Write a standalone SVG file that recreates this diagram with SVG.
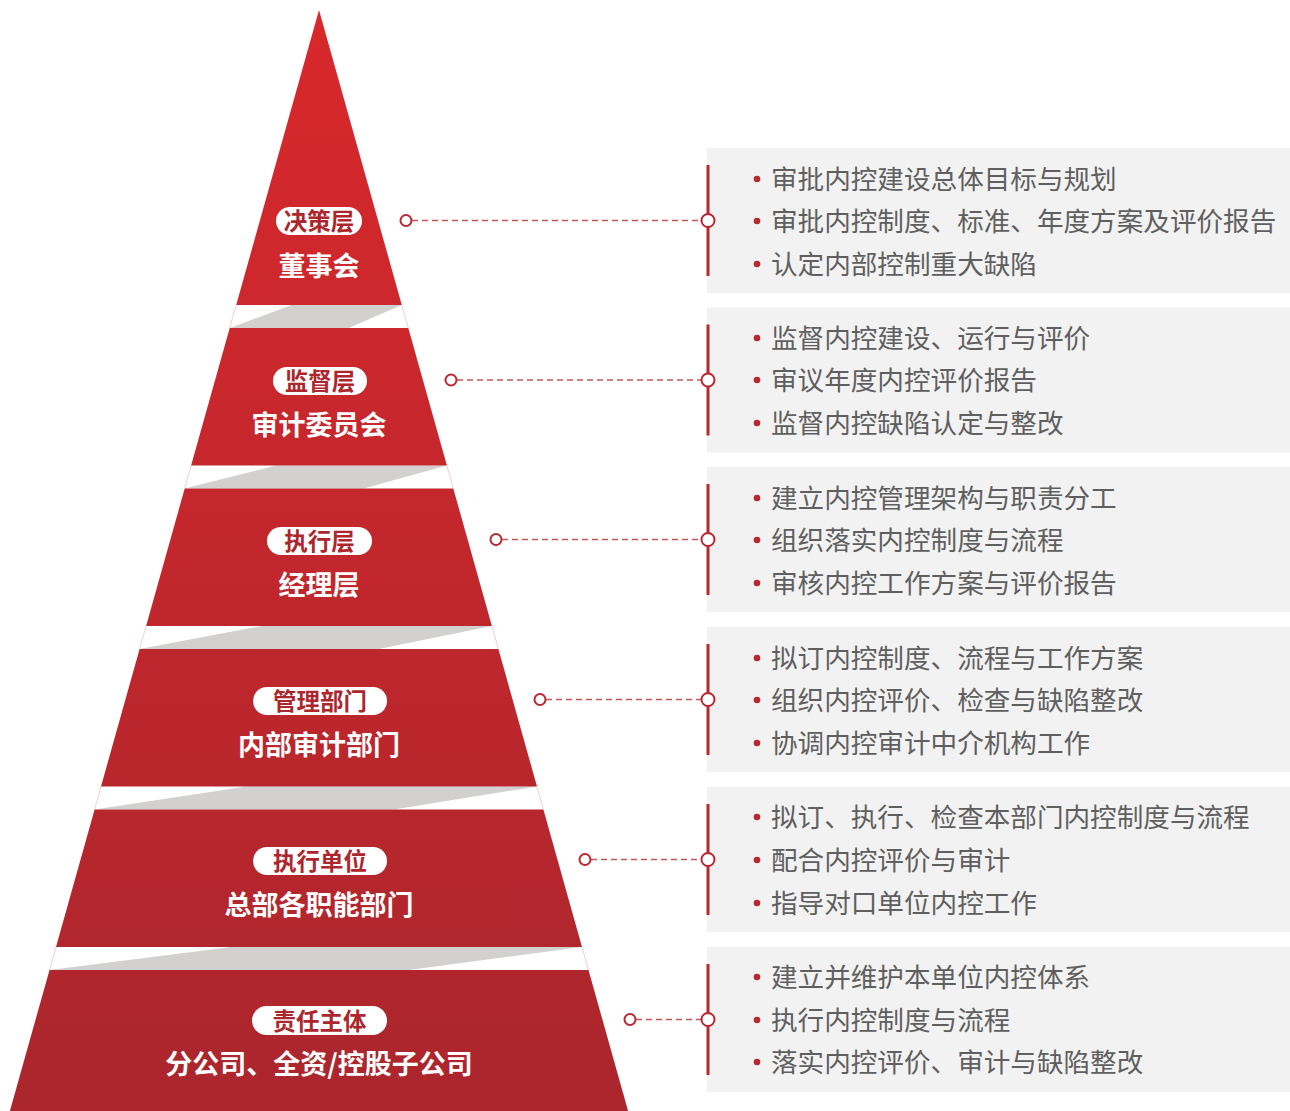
<svg xmlns="http://www.w3.org/2000/svg" width="1290" height="1111" viewBox="0 0 1290 1111">
<defs>
<linearGradient id="pg" gradientUnits="userSpaceOnUse" x1="0" y1="10" x2="0" y2="1111">
<stop offset="0" stop-color="#d8282c"/>
<stop offset="1" stop-color="#ab262d"/>
</linearGradient>
<style>
.tier{fill:url(#pg);}
.fold{fill:#d3d0d0;}
.edge{stroke:#f3c0c2;stroke-width:0.8;fill:none;}
.pill{fill:#ffffff;}
.pt{font-family:"Noto Sans CJK SC","Noto Sans",sans-serif;font-weight:bold;font-size:23.5px;fill:#ad262d;text-anchor:middle;dominant-baseline:central;}
.mt{font-family:"Noto Sans CJK SC","Noto Sans",sans-serif;font-weight:bold;font-size:27px;fill:#ffffff;text-anchor:middle;dominant-baseline:central;}
.box{fill:#f2f2f2;}
.bar{stroke:#b8282f;stroke-width:3;}
.dash{stroke:#c4575c;stroke-width:1.6;stroke-dasharray:6 4;fill:none;}
.dot{fill:#ffffff;stroke:#b8282f;stroke-width:2;}
.bd{fill:#b8282f;}
.bt{font-family:"Noto Sans CJK SC","Noto Sans",sans-serif;font-size:26.6px;fill:#5f5f5f;dominant-baseline:central;}
</style>
</defs>
<rect width="1290" height="1111" fill="#ffffff"/>

<g id="pyramid-edges">
<line class="edge" x1="236.2" y1="305" x2="229.7" y2="328"/>
<line class="edge" x1="401.8" y1="305" x2="408.3" y2="328"/>
<line class="edge" x1="191.1" y1="465.5" x2="184.7" y2="488.5"/>
<line class="edge" x1="446.9" y1="465.5" x2="453.3" y2="488.5"/>
<line class="edge" x1="146.1" y1="626" x2="139.6" y2="649"/>
<line class="edge" x1="491.9" y1="626" x2="498.4" y2="649"/>
<line class="edge" x1="101.0" y1="786.5" x2="94.6" y2="809.5"/>
<line class="edge" x1="537.0" y1="786.5" x2="543.4" y2="809.5"/>
<line class="edge" x1="56.0" y1="947" x2="49.5" y2="970"/>
<line class="edge" x1="582.0" y1="947" x2="588.5" y2="970"/>
</g>

<g id="folds">
<polygon class="fold" points="291.4,305 401.8,305 348.8,328 229.7,328"/>
<polygon class="fold" points="276.4,465.5 446.9,465.5 363.8,488.5 184.7,488.5"/>
<polygon class="fold" points="261.4,626 491.9,626 378.8,649 139.6,649"/>
<polygon class="fold" points="246.3,786.5 537.0,786.5 393.8,809.5 94.6,809.5"/>
<polygon class="fold" points="231.3,947 582.0,947 408.8,970 49.5,970"/>
</g>

<g id="tier1">
<polygon class="tier" points="319,10 401.8,305 236.2,305"/>
<rect class="pill" x="276" y="207" width="86" height="28" rx="14"/>
<text class="pt" x="319" y="220">决策层</text>
<text class="mt" x="319" y="264">董事会</text>
</g>
<g id="tier2">
<polygon class="tier" points="229.7,328 408.3,328 446.9,465.5 191.1,465.5"/>
<rect class="pill" x="273" y="367" width="94" height="28" rx="14"/>
<text class="pt" x="320" y="380">监督层</text>
<text class="mt" x="319" y="423">审计委员会</text>
</g>
<g id="tier3">
<polygon class="tier" points="184.7,488.5 453.3,488.5 491.9,626 146.1,626"/>
<rect class="pill" x="267" y="527" width="105" height="28" rx="14"/>
<text class="pt" x="319.5" y="540">执行层</text>
<text class="mt" x="319" y="583">经理层</text>
</g>
<g id="tier4">
<polygon class="tier" points="139.6,649 498.4,649 537.0,786.5 101.0,786.5"/>
<rect class="pill" x="253" y="687" width="134" height="28" rx="14"/>
<text class="pt" x="320" y="700">管理部门</text>
<text class="mt" x="319" y="743">内部审计部门</text>
</g>
<g id="tier5">
<polygon class="tier" points="94.6,809.5 543.4,809.5 582.0,947 56.0,947"/>
<rect class="pill" x="253" y="847" width="134" height="28" rx="14"/>
<text class="pt" x="320" y="860">执行单位</text>
<text class="mt" x="319" y="903">总部各职能部门</text>
</g>
<g id="tier6">
<polygon class="tier" points="49.5,970 588.5,970 628.1,1111 9.9,1111"/>
<rect class="pill" x="252" y="1006" width="135" height="29" rx="14.5"/>
<text class="pt" x="319.5" y="1019.5">责任主体</text>
<text class="mt" x="319" y="1062">分公司、全资/控股子公司</text>
</g>

<g id="box1">
<rect class="box" x="707" y="148" width="583" height="145"/>
<circle class="bd" cx="757" cy="179" r="3.3"/><text class="bt" x="771" y="177.5">审批内控建设总体目标与规划</text>
<circle class="bd" cx="757" cy="221" r="3.3"/><text class="bt" x="771" y="219.5">审批内控制度、标准、年度方案及评价报告</text>
<circle class="bd" cx="757" cy="264" r="3.3"/><text class="bt" x="771" y="262.5">认定内部控制重大缺陷</text>
</g>
<g id="box2">
<rect class="box" x="707" y="307.5" width="583" height="145"/>
<circle class="bd" cx="757" cy="338" r="3.3"/><text class="bt" x="771" y="336.5">监督内控建设、运行与评价</text>
<circle class="bd" cx="757" cy="380" r="3.3"/><text class="bt" x="771" y="378.5">审议年度内控评价报告</text>
<circle class="bd" cx="757" cy="423" r="3.3"/><text class="bt" x="771" y="421.5">监督内控缺陷认定与整改</text>
</g>
<g id="box3">
<rect class="box" x="707" y="467" width="583" height="145"/>
<circle class="bd" cx="757" cy="498" r="3.3"/><text class="bt" x="771" y="496.5">建立内控管理架构与职责分工</text>
<circle class="bd" cx="757" cy="540" r="3.3"/><text class="bt" x="771" y="538.5">组织落实内控制度与流程</text>
<circle class="bd" cx="757" cy="583" r="3.3"/><text class="bt" x="771" y="581.5">审核内控工作方案与评价报告</text>
</g>
<g id="box4">
<rect class="box" x="707" y="627" width="583" height="145"/>
<circle class="bd" cx="757" cy="658" r="3.3"/><text class="bt" x="771" y="656.5">拟订内控制度、流程与工作方案</text>
<circle class="bd" cx="757" cy="700" r="3.3"/><text class="bt" x="771" y="698.5">组织内控评价、检查与缺陷整改</text>
<circle class="bd" cx="757" cy="743" r="3.3"/><text class="bt" x="771" y="741.5">协调内控审计中介机构工作</text>
</g>
<g id="box5">
<rect class="box" x="707" y="787" width="583" height="145"/>
<circle class="bd" cx="757" cy="817" r="3.3"/><text class="bt" x="771" y="815.5">拟订、执行、检查本部门内控制度与流程</text>
<circle class="bd" cx="757" cy="860" r="3.3"/><text class="bt" x="771" y="858.5">配合内控评价与审计</text>
<circle class="bd" cx="757" cy="903" r="3.3"/><text class="bt" x="771" y="901.5">指导对口单位内控工作</text>
</g>
<g id="box6">
<rect class="box" x="707" y="947" width="583" height="145"/>
<circle class="bd" cx="757" cy="977" r="3.3"/><text class="bt" x="771" y="975.5">建立并维护本单位内控体系</text>
<circle class="bd" cx="757" cy="1020" r="3.3"/><text class="bt" x="771" y="1018.5">执行内控制度与流程</text>
<circle class="bd" cx="757" cy="1062" r="3.3"/><text class="bt" x="771" y="1060.5">落实内控评价、审计与缺陷整改</text>
</g>

<g id="connectors">
<line class="bar" x1="708" y1="165" x2="708" y2="276"/>
<line class="bar" x1="708" y1="324.5" x2="708" y2="435.5"/>
<line class="bar" x1="708" y1="484" x2="708" y2="595"/>
<line class="bar" x1="708" y1="644" x2="708" y2="755"/>
<line class="bar" x1="708" y1="804" x2="708" y2="915"/>
<line class="bar" x1="708" y1="964" x2="708" y2="1075"/>
<line class="dash" x1="412" y1="220.5" x2="702" y2="220.5"/>
<line class="dash" x1="457" y1="380" x2="702" y2="380"/>
<line class="dash" x1="502" y1="539.5" x2="702" y2="539.5"/>
<line class="dash" x1="546" y1="699.5" x2="702" y2="699.5"/>
<line class="dash" x1="591" y1="859.5" x2="702" y2="859.5"/>
<line class="dash" x1="636" y1="1019.5" x2="702" y2="1019.5"/>
<circle class="dot" cx="406" cy="220.5" r="5.5"/>
<circle class="dot" cx="451" cy="380" r="5.5"/>
<circle class="dot" cx="496" cy="539.5" r="5.5"/>
<circle class="dot" cx="540" cy="699.5" r="5.5"/>
<circle class="dot" cx="585" cy="859.5" r="5.5"/>
<circle class="dot" cx="630" cy="1019.5" r="5.5"/>
<circle class="dot" cx="708" cy="220.5" r="6.5"/>
<circle class="dot" cx="708" cy="380" r="6.5"/>
<circle class="dot" cx="708" cy="539.5" r="6.5"/>
<circle class="dot" cx="708" cy="699.5" r="6.5"/>
<circle class="dot" cx="708" cy="859.5" r="6.5"/>
<circle class="dot" cx="708" cy="1019.5" r="6.5"/>
</g>
</svg>
